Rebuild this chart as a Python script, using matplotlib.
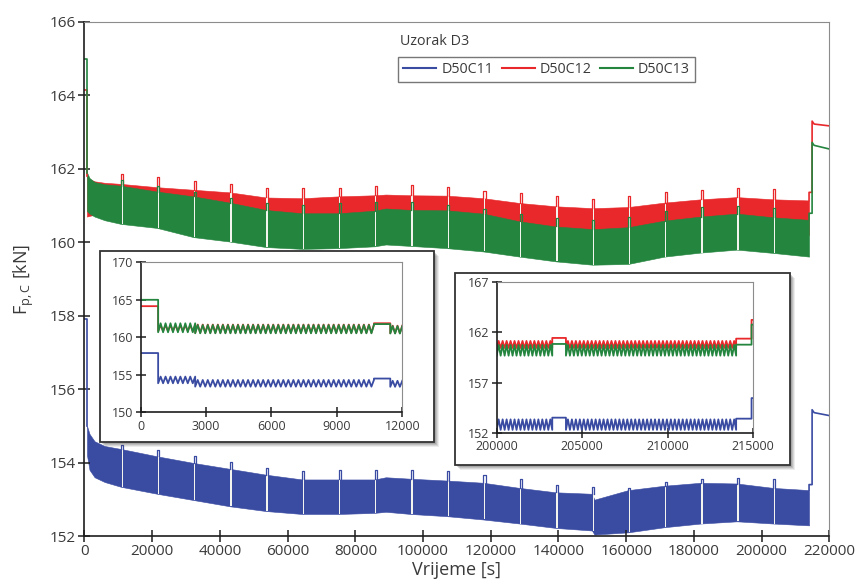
import numpy as np
import matplotlib
matplotlib.use("Agg")
import matplotlib.pyplot as plt
from matplotlib.patches import Rectangle

# ---- main chart: envelopes of the dense cyclic signal (kN) ----
band_t = [750, 1500, 3000, 6000, 10800, 21500, 32200, 42900, 53600, 64300,
          75000, 85700, 89000, 96400, 107100, 117800, 128500, 139200, 149900,
          150600, 160600, 171300, 182000, 192700, 203400, 214000]

blue_hi = [155.0, 154.78, 154.58, 154.45, 154.37, 154.17, 153.99, 153.83, 153.67, 153.54,
           153.54, 153.54, 153.6, 153.56, 153.51, 153.45, 153.31, 153.19, 153.15,
           152.99, 153.25, 153.37, 153.45, 153.43, 153.31, 153.25]
blue_lo = [154.2, 153.8, 153.6, 153.47, 153.34, 153.15, 152.98, 152.81, 152.68, 152.60,
           152.60, 152.63, 152.66, 152.60, 152.54, 152.45, 152.34, 152.22, 152.15,
           152.04, 152.10, 152.24, 152.34, 152.40, 152.34, 152.29]
red_hi = [161.8, 161.72, 161.66, 161.62, 161.59, 161.50, 161.43, 161.36, 161.22, 161.20,
          161.25, 161.28, 161.3, 161.28, 161.27, 161.20, 161.07, 160.98, 160.93,
          160.93, 160.96, 161.08, 161.17, 161.23, 161.17, 161.14]
red_lo = [160.7, 160.72, 160.75, 160.8, 160.8, 160.7, 160.6, 160.45, 160.3, 160.25,
          160.25, 160.3, 160.35, 160.3, 160.3, 160.25, 160.1, 160.0, 159.95,
          159.95, 160.0, 160.15, 160.25, 160.3, 160.25, 160.2]
green_hi = [161.9, 161.75, 161.64, 161.58, 161.54, 161.38, 161.25, 161.08, 160.88, 160.79,
            160.79, 160.86, 160.92, 160.88, 160.87, 160.78, 160.57, 160.43, 160.36,
            160.36, 160.41, 160.59, 160.70, 160.78, 160.68, 160.61]
green_lo = [160.85, 160.78, 160.7, 160.6, 160.5, 160.39, 160.14, 160.02, 159.87, 159.82,
            159.84, 159.89, 159.94, 159.90, 159.84, 159.75, 159.61, 159.48, 159.39,
            159.39, 159.41, 159.61, 159.72, 159.80, 159.71, 159.61]

# hold periods (start times) and the load held during them
spike_t = [10800, 21500, 32200, 42900, 53600, 64300, 75000, 85700, 96400, 107100,
           117800, 128500, 139200, 149900, 160600, 171300, 182000, 192700, 203400]
hold_len = 700
blue_cap = [154.49, 154.34, 154.19, 154.01, 153.86, 153.78, 153.81, 153.81, 153.81, 153.76,
            153.65, 153.54, 153.40, 153.34, 153.31, 153.47, 153.54, 153.58, 153.54]
red_cap = [161.86, 161.77, 161.68, 161.59, 161.49, 161.47, 161.49, 161.54, 161.57, 161.50,
           161.41, 161.34, 161.25, 161.18, 161.25, 161.36, 161.43, 161.47, 161.45]
green_cap = [161.70, 161.54, 161.36, 161.20, 161.07, 161.02, 161.07, 161.11, 161.11, 161.02,
             160.91, 160.78, 160.66, 160.61, 160.70, 160.84, 160.96, 160.98, 160.93]

# initial load (0-750 s), final hold and final step
init_val = {"blue": 157.9, "red": 164.15, "green": 165.0}
final_hold = (214000, 214900)
final_hold_val = {"blue": 153.40, "red": 161.36, "green": 160.79}
end_t = [214900, 215500, 220000]
end_val = {"blue": [155.44, 155.36, 155.28],
           "red": [163.30, 163.22, 163.17],
           "green": [162.72, 162.64, 162.54]}

# ---- inset 1 (0-12000 s) ----
cycle = 232  # loading period, s
in1_drop = 800
in1_segs = [(800, 2500), (2500, 10700), (11450, 12000)]
in1_hold = (10700, 11450)
in1_hi = {"blue": [154.76, 154.31, 154.2], "red": [161.6, 161.7, 161.55], "green": [161.87, 161.64, 161.5]}
in1_lo = {"blue": [153.87, 153.42, 153.4], "red": [160.84, 160.6, 160.55], "green": [160.67, 160.53, 160.5]}
in1_hold_val = {"blue": 154.5, "red": 161.87, "green": 161.76}

# ---- inset 2 (200000-215000 s) ----
in2_segs = [(200000, 203250), (204050, 214000)]
in2_holds = [(203250, 204050), (214000, 214900)]
in2_hi = {"blue": 153.33, "red": 161.15, "green": 160.75}
in2_lo = {"blue": 152.28, "red": 160.45, "green": 159.68}
in2_hold_val = {"blue": [153.5, 153.4], "red": [161.45, 161.38], "green": [160.85, 160.78]}
in2_end = {"blue": 155.45, "red": 163.25, "green": 162.78}

names = {"blue": "D50C11", "red": "D50C12", "green": "D50C13"}
colors = {"blue": "#3a4ba2", "red": "#e8282b", "green": "#24853f"}

plt.rcParams['font.family'] = ['Open Sans', 'DejaVu Sans']
TXT = "#3a3a3a"


def zigzag(t0, t1, hi, lo):
    n = max(int(round((t1 - t0) / (cycle / 2))), 1)
    t = np.linspace(t0, t1, n + 1)
    y = np.where(np.arange(n + 1) % 2 == 0, lo, hi)
    return list(t), list(y)


def style_axes(a, size, tick_len):
    for s in ("left", "bottom"):
        a.spines[s].set_color("#1e1e1e")
        a.spines[s].set_linewidth(1.2)
    for s in ("top", "right"):
        a.spines[s].set_color("#8c8c8c")
        a.spines[s].set_linewidth(0.8)
    a.tick_params(direction="inout", length=tick_len, width=1.1, color="#1e1e1e",
                  labelsize=size, labelcolor=TXT, pad=2)


fig = plt.figure(figsize=(8.59, 5.83), dpi=100)
ax = fig.add_axes([0.0983, 0.0806, 0.8672, 0.8817])

bands = {"blue": (blue_lo, blue_hi, blue_cap),
         "red": (red_lo, red_hi, red_cap),
         "green": (green_lo, green_hi, green_cap)}

for key in ("blue", "red", "green"):
    lo, hi, cap = bands[key]
    c = colors[key]
    ax.fill_between(band_t, lo, hi, color=c, lw=0.4)
    ax.plot([0, band_t[0], band_t[0]], [init_val[key], init_val[key], hi[0]], color=c, lw=1.2)
    ax.plot([band_t[-1], final_hold[0], final_hold[1]] + end_t,
            [hi[-1], final_hold_val[key], final_hold_val[key]] + end_val[key], color=c, lw=1.2)

# gaps in the band during the hold periods (drawn a bit narrower than the hold)
for key in ("blue", "red", "green"):
    lo, hi, cap = bands[key]
    for s in spike_t:
        i = band_t.index(s)
        ax.fill_between([s + 150, s + hold_len - 150], lo[i], hi[i], color="#f4f4ee", lw=0)

for key in ("blue", "red", "green"):
    lo, hi, cap = bands[key]
    for k, s in enumerate(spike_t):
        i = band_t.index(s)
        ax.plot([s + 50, s + 50, s + hold_len - 50, s + hold_len - 50],
                [hi[i], cap[k], cap[k], hi[i]],
                color=colors[key], lw=0.9, solid_joinstyle="round")

ax.set_xlim(0, 220000)
ax.set_ylim(152, 166)
ax.set_xticks(np.arange(0, 220001, 20000))
ax.set_yticks(np.arange(152, 167, 2))
style_axes(ax, 11, 8)
ax.set_xlabel("Vrijeme [s]", fontsize=13, color=TXT, labelpad=1)
ax.set_ylabel(r"F$_{\mathregular{p,C}}$ [kN]", fontsize=13, color=TXT, labelpad=10)

handles = [plt.Line2D([], [], color=colors[k], lw=1.5) for k in ("blue", "red", "green")]
leg = ax.legend(handles, [names[k] for k in ("blue", "red", "green")], ncol=3,
                loc="upper left", bbox_to_anchor=(0.4213, 0.9325), borderaxespad=0,
                fontsize=10.3, handlelength=2.3, handletextpad=0.35, columnspacing=0.6,
                borderpad=0.35, fancybox=False, framealpha=1, edgecolor="#777777")
leg.get_frame().set_linewidth(1.0)
for t in leg.get_texts():
    t.set_color(TXT)
ax.text(0.4235, 0.962, "Uzorak D3", transform=ax.transAxes, fontsize=10.3,
        color=TXT, va="center", ha="left")


def inset_frame(x, y, w, h):
    # drop shadow then white box
    for d, a in ((5, 0.10), (4, 0.14), (3, 0.18), (2, 0.22)):
        fig.add_artist(Rectangle((x + d / 859, y - d / 583), w, h, transform=fig.transFigure,
                                 facecolor="#555555", edgecolor="none", alpha=a, zorder=2))
    fig.add_artist(Rectangle((x, y), w, h, transform=fig.transFigure, facecolor="white",
                             edgecolor="#333333", lw=1.3, zorder=3))


inset_frame(0.1164, 0.2419, 0.3888, 0.3276)
inset_frame(0.5297, 0.2024, 0.3900, 0.3293)

ax1 = fig.add_axes([0.1638, 0.2928, 0.3045, 0.2573], zorder=5)
for key in ("blue", "red", "green"):
    ts = [0, in1_drop]
    ys = [init_val[key], init_val[key]]
    for j, (a, b) in enumerate(in1_segs):
        if j == 2:
            ts += [in1_hold[0], in1_hold[1]]
            ys += [in1_hold_val[key], in1_hold_val[key]]
        zt, zy = zigzag(a, b, in1_hi[key][j], in1_lo[key][j])
        ts += zt
        ys += zy
    ax1.plot(ts, ys, color=colors[key], lw=1.3)
ax1.set_xlim(0, 12000)
ax1.set_ylim(150, 170)
ax1.set_xticks(np.arange(0, 12001, 3000))
ax1.set_yticks(np.arange(150, 171, 5))
style_axes(ax1, 9, 7)

ax2 = fig.add_axes([0.5782, 0.2578, 0.2987, 0.2580], zorder=5)
for key in ("blue", "red", "green"):
    ts, ys = [], []
    for j, (a, b) in enumerate(in2_segs):
        zt, zy = zigzag(a, b, in2_hi[key], in2_lo[key])
        ts += zt
        ys += zy
        h0, h1 = in2_holds[j]
        ts += [h0, h1]
        ys += [in2_hold_val[key][j], in2_hold_val[key][j]]
    ts += [in2_holds[1][1], 215000]
    ys += [in2_end[key], in2_end[key]]
    ax2.plot(ts, ys, color=colors[key], lw=1.3)
ax2.set_xlim(200000, 215000)
ax2.set_ylim(152, 167)
ax2.set_xticks(np.arange(200000, 215001, 5000))
ax2.set_yticks(np.arange(152, 168, 5))
ax2.ticklabel_format(useOffset=False, style="plain")
style_axes(ax2, 9, 7)

fig.savefig("out.png", dpi=100)
